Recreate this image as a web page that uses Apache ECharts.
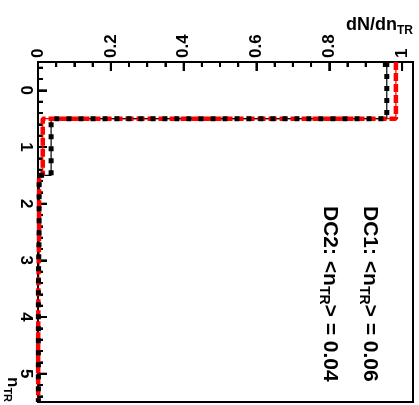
<!DOCTYPE html>
<html><head><meta charset="utf-8">
<script src="https://cdn.jsdelivr.net/npm/echarts@6/dist/echarts.min.js"></script>
<style>html,body{margin:0;padding:0;background:#fff}#c{width:419px;height:405px}</style>
</head><body><div id="c"></div>
<script>
// ---- data ----
const binCenters = [0, 1, 2, 3, 4, 5];
const binWidth = 1;
const dc1Values = [0.958, 0.036, 0.003, 0.001, 0.001, 0.001];
const dc2Values = [0.983, 0.013, 0.003, 0.001, 0.0005, 0.0005];
const seriesNames = ['DC1', 'DC2'];
const meanValues = ['0.06', '0.04'];
const nRange = [-0.5, 5.5];
const nTickCount = 6;
const nMajorTicks = [0, 1, 2, 3, 4, 5];
const dnRange = [0, 1.03];
const dnTickStep = 0.2;
const dnMajorTicks = [0, 0.2, 0.4, 0.6, 0.8, 1];

function minorTicks(major, parts, lo, hi) {
  const step = (major[1] - major[0]) / parts, out = [];
  for (let k = -parts; ; k++) {
    const r = Math.round((major[0] + k * step) * 10000) / 10000;
    if (r > hi) break;
    const isMajor = major.some(m => Math.abs(m - r) < 1e-6);
    if (!isMajor && r > lo && r < hi) out.push(r);
  }
  return out;
}
const nMinorTicks = minorTicks(nMajorTicks, 5, nRange[0], nRange[1]);
const dnMinorTicks = minorTicks(dnMajorTicks, 4, dnRange[0], dnRange[1]);

function outline(vals) {
  const pts = [];
  vals.forEach((v, i) => {
    const c = binCenters[i];
    pts.push([v, c - binWidth / 2]);
    pts.push([v, c + binWidth / 2]);
  });
  return pts;
}

const FONT = '"Liberation Sans", Arial, Helvetica, sans-serif';
const lbl = { fontSize: 17, fontWeight: 'bold', color: '#000', fontFamily: FONT };

function histSeries(vals, color, dash, width) {
  return [
    { type: 'line', data: outline(vals), symbol: 'none', silent: true,
      lineStyle: { color: color, width: 1.2 }, z: 2 },
    { type: 'line', data: outline(vals), symbol: 'none', silent: true,
      lineStyle: { color: color, width: width, type: dash, cap: 'butt' }, z: 3 }
  ];
}

// inward ticks drawn through the axes' own scales
function tickSeries(values, dir, len) {
  return {
    type: 'custom', silent: true, clip: false, z: 1,
    data: values.map(v => dir === 'x' ? [v, nRange[0]] : [dnRange[0], v]),
    renderItem: function (params, api) {
      const p = api.coord([api.value(0), api.value(1)]);
      const shape = dir === 'x'
        ? { x1: p[0], y1: p[1], x2: p[0], y2: p[1] + len }
        : { x1: p[0], y1: p[1], x2: p[0] + len, y2: p[1] };
      return { type: 'line', shape: shape, style: { stroke: '#000', lineWidth: 2 } };
    }
  };
}

function richLabel(name, mean) {
  return '{m|' + name + ': <n}{s|TR}{m|> = ' + mean + '}';
}
const richStyles = {
  m: { fontSize: 21, fontWeight: 'bold', fontFamily: FONT, color: '#000' },
  s: { fontSize: 14, fontWeight: 'bold', fontFamily: FONT, color: '#000', padding: [12, 0, 0, 0] }
};

const chart = echarts.init(document.getElementById('c'));
chart.setOption({
  animation: false,
  backgroundColor: '#fff',
  grid: { left: 38, right: 6, top: 62, bottom: 3, show: true, borderColor: '#000', borderWidth: 2, backgroundColor: 'transparent' },
  xAxis: {
    type: 'value', position: 'top', min: dnRange[0], max: dnRange[1], interval: dnTickStep,
    axisLine: { show: true, onZero: false, lineStyle: { color: '#000', width: 2 } },
    axisTick: { show: true, inside: true, length: 9, lineStyle: { color: '#000', width: 2 } },
    minorTick: { show: true, splitNumber: 4, length: 5, lineStyle: { color: '#000', width: 2 } },
    axisLabel: Object.assign({ rotate: -90, margin: 4, showMaxLabel: false }, lbl),
    splitLine: { show: false }, minorSplitLine: { show: false }
  },
  yAxis: {
    type: 'value', position: 'left', inverse: true, min: nRange[0], max: nRange[1], splitNumber: nTickCount,
    axisLine: { show: true, onZero: false, lineStyle: { color: '#000', width: 2 } },
    axisTick: { show: true, inside: true, length: 9, lineStyle: { color: '#000', width: 2 } },
    minorTick: { show: true, splitNumber: 5, length: 5, lineStyle: { color: '#000', width: 2 } },
    axisLabel: Object.assign({ rotate: -90, margin: 4, showMinLabel: false, showMaxLabel: false }, lbl),
    splitLine: { show: false }, minorSplitLine: { show: false }
  },
  series: [].concat(
    [tickSeries(dnMajorTicks, 'x', 9), tickSeries(dnMinorTicks, 'x', 5),
     tickSeries(nMajorTicks, 'y', 9), tickSeries(nMinorTicks, 'y', 5)],
    histSeries(dc2Values, '#ff0000', [8, 3], 4.5),
    histSeries(dc1Values, '#000000', [5, 7], 5)
  ),
  graphic: [
    { type: 'text', x: 413, y: 25, z: 10,
      style: { text: '{m|dN/dn}{s|TR}', textAlign: 'right', textVerticalAlign: 'middle',
        rich: { m: { fontSize: 18, fontWeight: 'bold', fontFamily: FONT, color: '#000' },
                s: { fontSize: 12, fontWeight: 'bold', fontFamily: FONT, color: '#000', padding: [12, 0, 0, 0] } } } },
    { type: 'text', x: 13, y: 377, rotation: -Math.PI / 2, z: 10,
      style: { text: '{m|n}{s|TR}', textAlign: 'left', textVerticalAlign: 'middle',
        rich: { m: { fontSize: 17, fontWeight: 'bold', fontFamily: FONT, color: '#000' },
                s: { fontSize: 11, fontWeight: 'bold', fontFamily: FONT, color: '#000', padding: [12, 0, 0, 0] } } } },
    { type: 'text', x: 370, y: 206, rotation: -Math.PI / 2, z: 10,
      style: { text: richLabel(seriesNames[0], meanValues[0]), textAlign: 'left', textVerticalAlign: 'middle', rich: richStyles } },
    { type: 'text', x: 330, y: 206, rotation: -Math.PI / 2, z: 10,
      style: { text: richLabel(seriesNames[1], meanValues[1]), textAlign: 'left', textVerticalAlign: 'middle', rich: richStyles } }
  ]
});
</script></body></html>
